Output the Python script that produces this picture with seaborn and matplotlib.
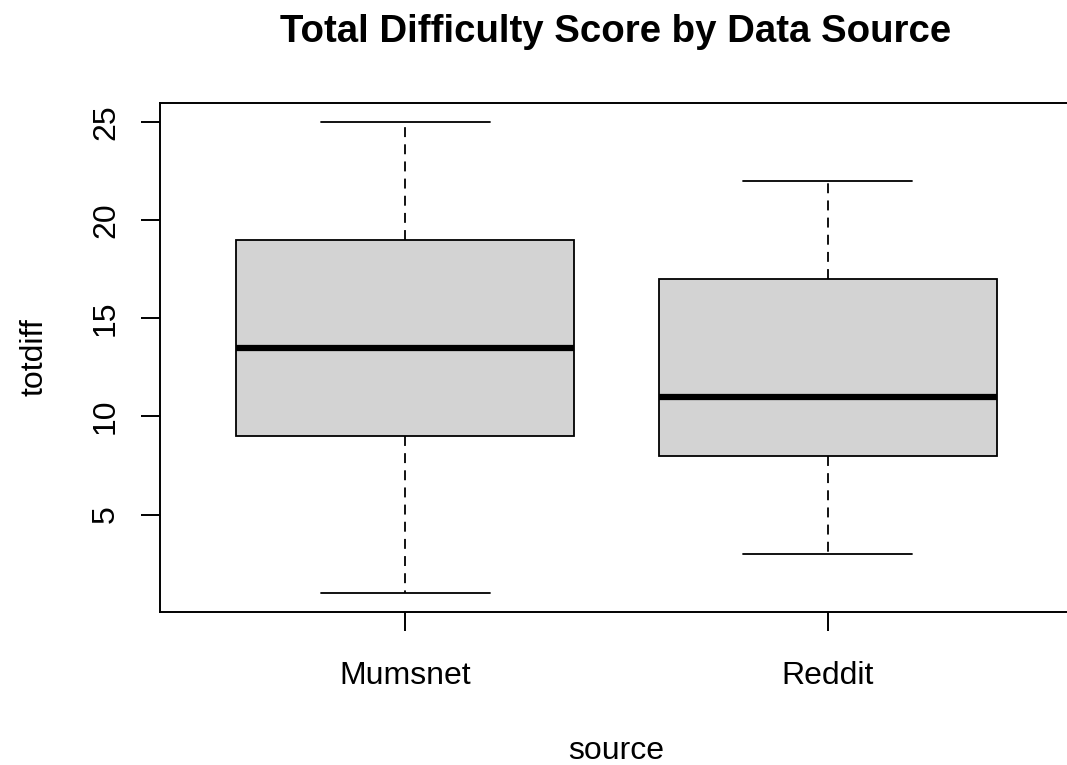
import numpy as np
import pandas as pd
import seaborn as sns
import matplotlib
matplotlib.use('Agg')
from matplotlib import pyplot as plt

# five-number summaries (min, Q1, median, Q3, max)
sources = ['Mumsnet', 'Reddit']
mumsnet_vals = [1, 9, 13.5, 19, 25]
reddit_vals = [3, 8, 11, 17, 22]
y_ticks = [5, 10, 15, 20, 25]

df = pd.DataFrame({
    'source': ['Mumsnet'] * len(mumsnet_vals) + ['Reddit'] * len(reddit_vals),
    'totdiff': mumsnet_vals + reddit_vals,
})

sns.set_style('white')
plt.rcParams['font.family'] = ['Liberation Sans', 'DejaVu Sans']
plt.rcParams['text.color'] = 'black'
plt.rcParams['axes.labelcolor'] = 'black'
plt.rcParams['xtick.color'] = 'black'
plt.rcParams['ytick.color'] = 'black'

fig = plt.figure(figsize=(10.67, 7.65), dpi=100)
ax = fig.add_axes([160 / 1067, 1 - 612 / 765, (1073 - 160) / 1067, (612 - 103) / 765])

lw = 1.3
sns.boxplot(data=df, x='source', y='totdiff', order=sources, ax=ax,
            color='#D3D3D3', width=0.8, linecolor='black', linewidth=lw,
            saturation=1, whis=1.5, showfliers=True,
            boxprops={'edgecolor': 'black', 'linewidth': lw},
            whiskerprops={'linestyle': (0, (5.5, 4)), 'linewidth': lw, 'color': 'black'},
            capprops={'linewidth': lw, 'color': 'black'},
            medianprops={'linewidth': 4.5, 'color': 'black', 'solid_capstyle': 'butt'})

ax.set_xlim(0.42 - 1, 2.58 - 1)
ax.set_ylim(0.04, 25.96)
ax.set_yticks(y_ticks)
ax.set_yticklabels([str(t) for t in y_ticks], rotation=90, va='center')

for s in ax.spines.values():
    s.set_visible(True)
    s.set_color('black')
    s.set_linewidth(1.4)
ax.spines['right'].set_visible(False)

ax.tick_params(axis='both', direction='out', length=14, width=1.4, color='black',
               labelcolor='black', labelsize=23, left=True, bottom=True)
ax.tick_params(axis='x', pad=21)
ax.tick_params(axis='y', pad=14)

ax.set_xlabel('source', fontsize=23, labelpad=33, color='black')
ax.set_ylabel('totdiff', fontsize=23, labelpad=30, color='black')
fig.text(616 / 1067, 1 - 32 / 765, 'Total Difficulty Score by Data Source',
         ha='center', va='center', fontsize=27.6, fontweight='bold', color='black')

plt.savefig('out.png', dpi=100)
plt.close(fig)
